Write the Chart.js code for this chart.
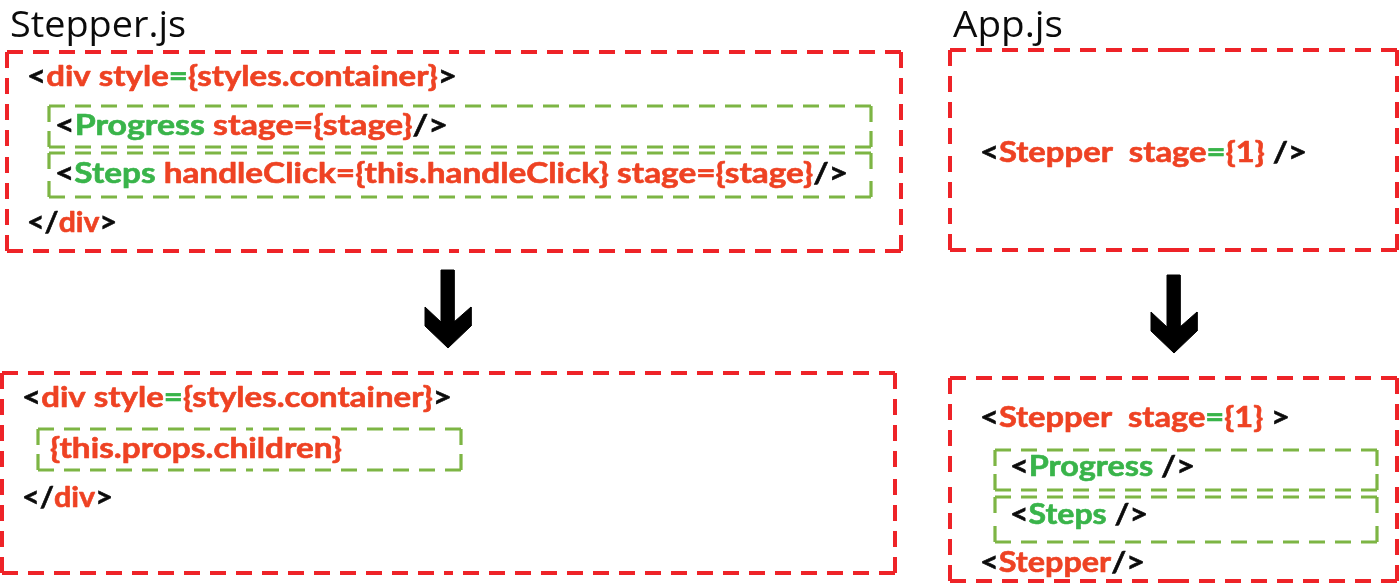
<!DOCTYPE html>
<html>
<head>
<meta charset="utf-8">
<script src="https://cdn.jsdelivr.net/npm/chart.js@4"></script>
<style>
  html, body { margin: 0; padding: 0; background: #ffffff; }
  #wrap { width: 1400px; height: 583px; position: relative; }
  canvas { display: block; }
</style>
</head>
<body>
<div id="wrap"><canvas id="c" width="1400" height="583"></canvas></div>
<script>
// ---------- DATA (text content of the diagram) ----------
const fileTitles = ["Stepper.js", "App.js"];

// each code line: list of [text, role]; role: t = tag punctuation, a = attribute/name, c = component
const stepperBefore = [
  [["<", "t"], ["div style", "a"], ["=", "c"], ["{styles.container}", "a"], [">", "t"]],
  [["<", "t"], ["Progress", "c"], [" stage={stage}", "a"], ["/>", "t"]],
  [["<", "t"], ["Steps", "c"], [" handleClick={this.handleClick} stage={stage}", "a"], ["/>", "t"]],
  [["</", "t"], ["div", "a"], [">", "t"]]
];
const appBefore = [
  [["<", "t"], ["Stepper  stage", "a"], ["=", "c"], ["{1}", "a"], [" />", "t"]]
];
const stepperAfter = [
  [["<", "t"], ["div style", "a"], ["=", "c"], ["{styles.container}", "a"], [">", "t"]],
  [["{this.props.children}", "a"]],
  [["</", "t"], ["div", "a"], [">", "t"]]
];
const appAfter = [
  [["<", "t"], ["Stepper  stage", "a"], ["=", "c"], ["{1}", "a"], [" >", "t"]],
  [["<", "t"], ["Progress", "c"], [" />", "t"]],
  [["<", "t"], ["Steps", "c"], [" />", "t"]],
  [["<", "t"], ["Stepper", "a"], ["/>", "t"]]
];

// ---------- LAYOUT & STYLE (separate from data) ----------
const roleColor = { t: "#0b0b0b", a: "#ee4223", c: "#39b44a" };
const RED = "#ee2328", GREEN = "#7db544";

// [x, baselineY, rightEdgeX] for each text line
const layoutTitles = [[10, 37, 186], [953, 37, 1063]];
const layoutStepperBefore = [[27, 86, 457], [55, 135, 448], [55, 183, 848], [27, 232, 117]];
const layoutAppBefore = [[980, 162, 1307]];
const layoutStepperAfter = [[22, 407, 452], [50, 458, 342], [22, 507, 113]];
const layoutAppAfter = [[980, 427, 1290], [1010, 476, 1195], [1010, 524, 1148], [980, 572, 1145]];

// boxes: [x1, y1, x2, y2, kind]
const boxLayout = [
  [7, 52, 901, 251, "outer"],
  [49, 106, 871, 147, "inner"],
  [49, 153, 871, 197, "inner"],
  [950, 50, 1397, 250, "outer"],
  [2, 373, 895, 573, "outer"],
  [38, 429, 461, 470, "inner"],
  [950, 378, 1397, 581, "outer"],
  [995, 450, 1377, 490, "inner"],
  [995, 497, 1377, 542, "inner"]
];
// arrow tips
const arrowTips = [[448, 348], [1174, 353]];
// arrow outline relative to tip
const arrowShape = [[-7, -78], [6, -78], [6, -26], [23, -41], [23, -22], [0, 0],
                    [-23, -22], [-23, -41], [-7, -26], [-7, -78]];

// ---------- BUILD DATASETS ----------
function boxSides(b) {
  const [x1, y1, x2, y2] = b;
  const mx = (x1 + x2) / 2, my = (y1 + y2) / 2;
  const segs = [
    [[x1, y1], [mx, y1]], [[x2, y1], [mx, y1]],
    [[x2, y1], [x2, my]], [[x2, y2], [x2, my]],
    [[x2, y2], [mx, y2]], [[x1, y2], [mx, y2]],
    [[x1, y2], [x1, my]], [[x1, y1], [x1, my]]
  ];
  const pts = [];
  segs.forEach((s, i) => {
    if (i) pts.push({ x: s[0][0], y: null });
    pts.push({ x: s[0][0], y: s[0][1] });
    pts.push({ x: s[1][0], y: s[1][1] });
  });
  return pts;
}

const datasets = [];
boxLayout.forEach(b => {
  const outer = b[4] === "outer";
  datasets.push({
    type: "line",
    data: boxSides(b),
    borderColor: outer ? RED : GREEN,
    borderWidth: outer ? 4 : 3.2,
    borderDash: [16, 10],
    borderCapStyle: "butt",
    pointRadius: 0,
    spanGaps: false,
    fill: false,
    tension: 0,
    clip: false
  });
});
arrowTips.forEach(t => {
  datasets.push({
    type: "line",
    data: arrowShape.map(p => ({ x: t[0] + p[0], y: t[1] + p[1] })),
    borderColor: "#000",
    backgroundColor: "#000",
    borderWidth: 1,
    pointRadius: 0,
    fill: "shape",
    tension: 0,
    clip: false
  });
});

// ---------- TEXT PLUGIN ----------
const CODE_FONT = "bold 28px Lato, 'Noto Sans', sans-serif";
const TITLE_FONT = "36px 'Open Sans', 'Noto Sans', sans-serif";

function drawLine(chart, segs, lay, font, stroke) {
  const ctx = chart.ctx;
  const xs = chart.scales.x, ys = chart.scales.y;
  const x0 = xs.getPixelForValue(lay[0]);
  const y0 = ys.getPixelForValue(lay[1]);
  const x1 = xs.getPixelForValue(lay[2]);
  ctx.save();
  ctx.font = font;
  ctx.textBaseline = "alphabetic";
  ctx.textAlign = "left";
  let natural = 0;
  segs.forEach(s => { natural += ctx.measureText(s[0]).width; });
  const sx = (x1 - x0) / natural;
  ctx.translate(x0, y0);
  ctx.scale(sx, 1);
  let cx = 0;
  segs.forEach(s => {
    ctx.fillStyle = roleColor[s[1]];
    ctx.fillText(s[0], cx, 0);
    if (stroke) {
      ctx.strokeStyle = roleColor[s[1]];
      ctx.lineWidth = stroke;
      ctx.lineJoin = "round";
      ctx.strokeText(s[0], cx, 0);
    }
    cx += ctx.measureText(s[0]).width;
  });
  ctx.restore();
}

const textPlugin = {
  id: "codeText",
  afterDatasetsDraw(chart) {
    fileTitles.forEach((t, i) => drawLine(chart, [[t, "t"]], layoutTitles[i], TITLE_FONT, 0));
    stepperBefore.forEach((l, i) => drawLine(chart, l, layoutStepperBefore[i], CODE_FONT, 0.6));
    appBefore.forEach((l, i) => drawLine(chart, l, layoutAppBefore[i], CODE_FONT, 0.6));
    stepperAfter.forEach((l, i) => drawLine(chart, l, layoutStepperAfter[i], CODE_FONT, 0.6));
    appAfter.forEach((l, i) => drawLine(chart, l, layoutAppAfter[i], CODE_FONT, 0.6));
  }
};

new Chart(document.getElementById("c"), {
  type: "scatter",
  data: { datasets },
  options: {
    responsive: false,
    animation: false,
    events: [],
    layout: { padding: 0 },
    scales: {
      x: { type: "linear", min: 0, max: 1400, display: false },
      y: { type: "linear", min: 0, max: 583, reverse: true, display: false }
    },
    plugins: { legend: { display: false }, tooltip: { enabled: false } }
  },
  plugins: [textPlugin]
});
</script>
</body>
</html>
